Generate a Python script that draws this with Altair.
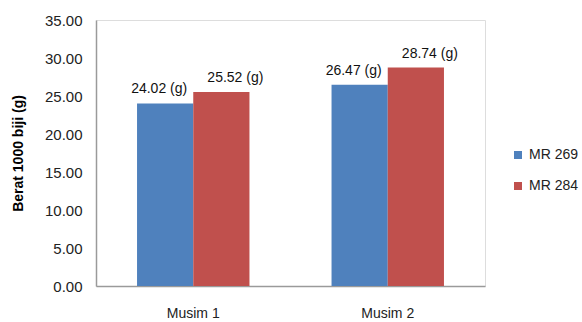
import altair as alt
import pandas as pd

seasons = ["Musim 1", "Musim 1", "Musim 2", "Musim 2"]
varieties = ["MR 269", "MR 284", "MR 269", "MR 284"]
weights = [24.02, 25.52, 26.47, 28.74]
y_ticks = [0, 5, 10, 15, 20, 25, 30, 35]

df = pd.DataFrame({"season": seasons, "variety": varieties, "weight": weights})
df["label"] = df["weight"].map(lambda v: f"{v:.2f} (g)")

FONT = "Liberation Sans"
COLORS = {"MR 269": "#4F81BD", "MR 284": "#C0504D"}

y_axis = alt.Axis(values=y_ticks, format=".2f", grid=False, ticks=False, labelPadding=14,
                  labelOverlap=False, labelFontSize=15, labelFont=FONT, labelColor="#222",
                  titleFont=FONT, titleFontSize=14, titleFontWeight="bold",
                  titleColor="#000", titleX=-78, titleY=133, titleBaseline="middle",
                  titleAngle=-90, titleAlign="center",
                  domainColor="#9a9a9a", domainWidth=1.5)

base = alt.Chart(df).encode(
    x=alt.X("season:N", title=None, scale=alt.Scale(paddingInner=0.0, paddingOuter=0.0),
            axis=alt.Axis(labelAngle=0, ticks=False, labelPadding=20, labelFontSize=14,
                          labelFont=FONT, labelColor="#222", domainColor="#9a9a9a", domainWidth=1.5)),
    xOffset=alt.XOffset("variety:N", scale=alt.Scale(paddingInner=0.0, paddingOuter=0.73)),
    y=alt.Y("weight:Q", title="Berat 1000 biji (g)",
            scale=alt.Scale(domain=[0, 35], nice=False), axis=y_axis),
)

bars = base.mark_bar().encode(
    color=alt.Color("variety:N", title=None,
                    scale=alt.Scale(domain=list(COLORS), range=list(COLORS.values())),
                    legend=alt.Legend(orient="none", legendX=415, legendY=128, symbolType="square",
                                      symbolSize=64, symbolStrokeWidth=0, labelFont=FONT,
                                      labelFontSize=14, labelColor="#222", rowPadding=17,
                                      labelOffset=4)),
)

# value labels, nudged outward from each pair of bars
label_shift = {"MR 269": -6, "MR 284": 14}
labels = [
    base.transform_filter(alt.datum.variety == v)
    .mark_text(baseline="alphabetic", dy=-10, dx=dx, font=FONT, fontSize=14, color="#111")
    .encode(text="label:N")
    for v, dx in label_shift.items()
]

chart = alt.layer(bars, *labels).properties(
    width=389, height=266,
    autosize=alt.AutoSizeParams(type="none"),
    padding={"left": 96, "top": 20, "right": 97, "bottom": 36},
).configure_view(stroke="#c8c8c8", strokeWidth=1.5).configure(background="white")

chart.save("out.html", embed_options={"renderer": "svg", "actions": False})
